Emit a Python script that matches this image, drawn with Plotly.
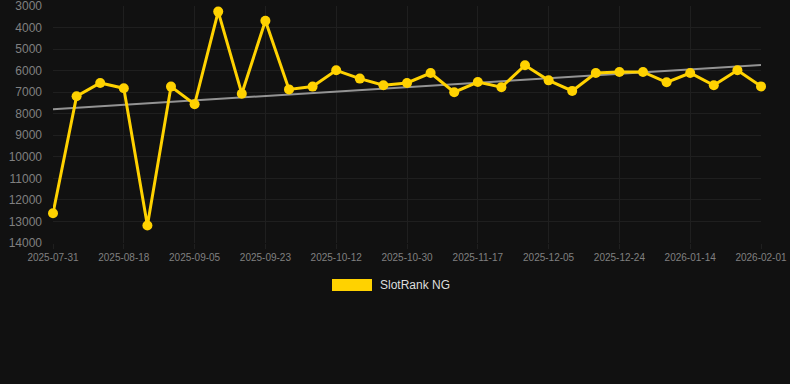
import numpy as np
import plotly.graph_objects as go

tick_labels = ["2025-07-31", "2025-08-18", "2025-09-05", "2025-09-23", "2025-10-12",
               "2025-10-30", "2025-11-17", "2025-12-05", "2025-12-24", "2026-01-14", "2026-02-01"]
rank_values = [12620, 7190, 6570, 6820, 13190, 6740, 7560, 3260, 7070, 3680,
               6870, 6740, 5985, 6370, 6680, 6570, 6110, 7000, 6530, 6770,
               5750, 6450, 6940, 6110, 6060, 6060, 6540, 6110, 6680, 5985, 6730]
y_ticks = [3000, 4000, 5000, 6000, 7000, 8000, 9000, 10000, 11000, 12000, 13000, 14000]
series_name = "SlotRank NG"

idx = np.arange(len(rank_values))
tick_pos = idx[::3]
coef = np.polyfit(idx, rank_values, 1)
trend = np.polyval(coef, idx)

GOLD = "#FFD200"
BG = "#111111"
GRID = "#1f1f1f"
fig = go.Figure()
fig.add_trace(go.Scatter(x=idx, y=trend, mode="lines",
                         line=dict(color="rgba(170,170,170,0.85)", width=2),
                         hoverinfo="skip", showlegend=False, cliponaxis=False))
fig.add_trace(go.Scatter(x=idx, y=rank_values, mode="lines+markers", name=series_name,
                         line=dict(color=GOLD, width=3),
                         marker=dict(color=GOLD, size=10),
                         showlegend=False, cliponaxis=False))

fig.update_layout(
    width=790, height=384,
    margin=dict(l=53, r=29, t=6, b=141, autoexpand=False),
    paper_bgcolor=BG, plot_bgcolor=BG,
    font=dict(family="Liberation Sans, Arial, sans-serif", color="#808080"),
    xaxis=dict(range=[0, len(rank_values) - 1], tickmode="array",
               tickvals=tick_pos, ticktext=tick_labels, automargin=False,
               showgrid=True, gridcolor=GRID, gridwidth=1,
               zeroline=False, showline=False,
               ticks="outside", ticklen=5, tickcolor=GRID,
               tickfont=dict(size=10, color="#808080")),
    yaxis=dict(range=[14000, 2999], tickmode="array", tickvals=y_ticks,
               ticktext=[str(v) for v in y_ticks], automargin=False,
               showgrid=True, gridcolor=GRID, gridwidth=1,
               zeroline=False, showline=False, ticks="", ticklabelstandoff=10,
               ticklabeloverflow="allow",
               tickfont=dict(size=12, color="#808080")),
    shapes=[dict(type="rect", xref="paper", yref="paper",
                 x0=(332 - 53) / 708, x1=(372 - 53) / 708,
                 y0=(243 - 291) / 237, y1=(243 - 279) / 237,
                 fillcolor=GOLD, line=dict(width=0))],
    annotations=[dict(text=series_name, xref="paper", yref="paper",
                      x=(378 - 53) / 708, y=(243 - 285) / 237,
                      xanchor="left", yanchor="middle", showarrow=False,
                      font=dict(size=12, color="#dddddd"))],
)
fig.write_html("out.html", config={"displayModeBar": False},
               post_script="document.body.style.margin='0';document.body.style.background='#111111';")
